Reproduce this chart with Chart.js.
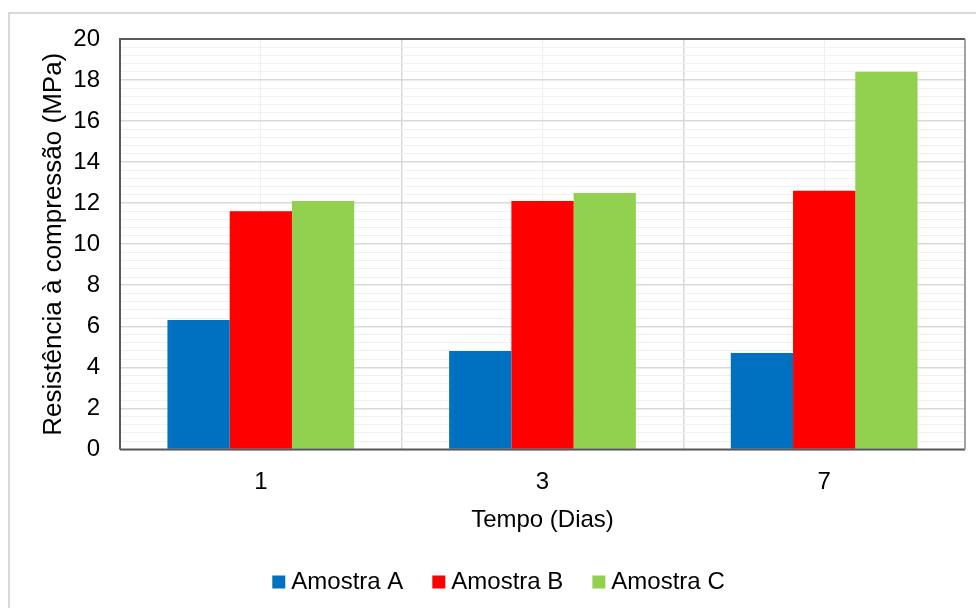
<!DOCTYPE html>
<html>
<head>
<meta charset="utf-8">
<script src="https://cdn.jsdelivr.net/npm/chart.js@4/dist/chart.umd.min.js"></script>
<style>
  html, body { margin: 0; padding: 0; background: #ffffff; }
  #wrap { width: 976px; height: 608px; position: relative; }
</style>
</head>
<body>
<div id="wrap"><canvas id="c" width="976" height="608"></canvas></div>
<script>
// Compressive strength by curing time, three samples
const dias = ['1', '3', '7'];
const amostraA = [6.3, 4.8, 4.7];
const amostraB = [11.6, 12.1, 12.6];
const amostraC = [12.1, 12.5, 18.4];
const seriesNames = ['Amostra A', 'Amostra B', 'Amostra C'];
const seriesColors = ['#0070C0', '#FF0000', '#92D050'];
const yTickLabels = ['0', '2', '4', '6', '8', '10', '12', '14', '16', '18', '20'];

const FONT = 'Liberation Sans, Arial, sans-serif';

const isMajor = v => Math.abs(v / 2 - Math.round(v / 2)) < 1e-6;

// outer light frame and dark frame around the plotting area
const frames = {
  id: 'frames',
  beforeDraw(chart) {
    const ctx = chart.ctx;
    ctx.save();
    ctx.strokeStyle = '#d9d9d9';
    ctx.lineWidth = 2;
    ctx.strokeRect(9, 13, chart.width + 20, chart.height + 20);
    ctx.restore();
  },
  afterDatasetsDraw(chart) {
    const a = chart.chartArea;
    const ctx = chart.ctx;
    ctx.save();
    ctx.strokeStyle = '#595959';
    ctx.lineWidth = 2;
    ctx.beginPath();
    ctx.moveTo(a.left, a.bottom);
    ctx.lineTo(a.left, a.top);
    ctx.lineTo(a.right, a.top);
    ctx.stroke();
    ctx.beginPath();
    ctx.moveTo(a.left, a.bottom);
    ctx.lineTo(a.right, a.bottom);
    ctx.stroke();
    ctx.strokeStyle = '#8c8c8c';
    ctx.lineWidth = 1.5;
    ctx.beginPath();
    ctx.moveTo(a.right, a.top);
    ctx.lineTo(a.right, a.bottom);
    ctx.stroke();
    ctx.restore();
  }
};

new Chart(document.getElementById('c'), {
  type: 'bar',
  data: {
    labels: dias,
    datasets: [
      { label: seriesNames[0], data: amostraA, backgroundColor: seriesColors[0] },
      { label: seriesNames[1], data: amostraB, backgroundColor: seriesColors[1] },
      { label: seriesNames[2], data: amostraC, backgroundColor: seriesColors[2] }
    ]
  },
  options: {
    responsive: false,
    animation: false,
    devicePixelRatio: 1,
    datasets: { bar: { categoryPercentage: 0.663, barPercentage: 1.0, borderWidth: 0 } },
    layout: { padding: { left: 38, right: 11, top: 39, bottom: 4 } },
    plugins: {
      legend: {
        position: 'bottom',
        labels: {
          font: { family: FONT, size: 24 },
          color: '#000000',
          usePointStyle: true,
          pointStyle: 'rect',
          boxWidth: 1,
          boxHeight: 13,
          padding: 35
        }
      },
      tooltip: { enabled: false }
    },
    scales: {
      x: {
        grid: { display: true, offset: true, color: '#d9d9d9', lineWidth: 1.5, drawTicks: false },
        border: { display: false },
        ticks: { font: { family: FONT, size: 24 }, color: '#000000', padding: 19 },
        title: { display: true, text: 'Tempo (Dias)', font: { family: FONT, size: 24 }, color: '#000000', padding: { top: -10, bottom: 0 } }
      },
      xc: {
        type: 'category',
        labels: dias,
        position: 'top',
        offset: true,
        grid: { display: true, offset: false, color: '#eeeeee', lineWidth: 1, drawTicks: false },
        border: { display: false },
        ticks: { display: false },
        afterFit(s) { s.height = 0; }
      },
      y: {
        min: 0,
        max: 20,
        ticks: {
          stepSize: 0.4,
          autoSkip: false,
          font: { family: FONT, size: 24 },
          color: '#000000',
          padding: 20,
          callback(v) { return isMajor(v) ? yTickLabels[Math.round(v / 2)] : ''; }
        },
        grid: {
          drawTicks: false,
          color: ctx => isMajor(ctx.tick.value) ? '#d9d9d9' : '#f0f0f0',
          lineWidth: ctx => isMajor(ctx.tick.value) ? 1.5 : 1
        },
        border: { display: false },
        title: { display: true, text: 'Resistência à compressão (MPa)', font: { family: FONT, size: 26 }, color: '#000000', padding: { top: 0, bottom: 0 } },
        afterFit(s) { s.width = 82; }
      }
    }
  },
  plugins: [frames]
});
</script>
</body>
</html>
